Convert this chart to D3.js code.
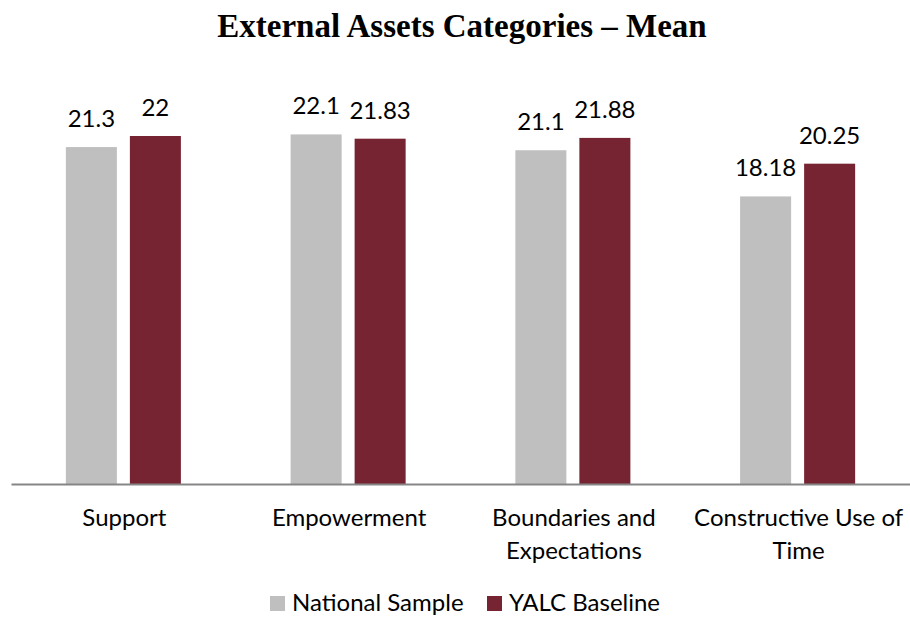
<!DOCTYPE html>
<html>
<head>
<meta charset="utf-8">
<script src="https://cdn.jsdelivr.net/npm/d3@7"></script>
<style>
  body { margin: 0; background: #fff; }
  text { font-family: Lato, "Open Sans", sans-serif; fill: #000; }
  .title { font-family: "Liberation Serif", "DejaVu Serif", serif; font-weight: bold; font-size: 33px; }
</style>
</head>
<body>
<div id="chart"></div>
<script>
// chart data
const categories = [["Support"], ["Empowerment"], ["Boundaries and", "Expectations"], ["Constructive Use of", "Time"]]
const seriesNames = ["National Sample", "YALC Baseline"]
const nationalSample = [21.3, 22.1, 21.1, 18.18]
const yalcBaseline = [22, 21.83, 21.88, 20.25]
const colors = ["#BFBFBF", "#772432"]

const width = 910, height = 617
const svg = d3.select("#chart").append("svg")
    .attr("width", width)
    .attr("height", height)

// scales
const x0 = d3.scaleBand()
    .domain(d3.range(categories.length))
    .range([11, 910])
const x1 = d3.scaleBand()
    .domain([0, 1])
    .range([0, x0.bandwidth()])
    .paddingInner(0.203)
    .paddingOuter(0.857)
const y = d3.scaleLinear()
    .domain([0, 22])
    .range([484, 136])

const series = [nationalSample, yalcBaseline]

// bars
series.forEach((vals, s) => {
    svg.append("g").selectAll("rect")
       .data(vals)
       .enter()
       .append("rect")
       .attr("x", (d, i) => x0(i) + x1(s))
       .attr("y", d => y(d))
       .attr("width", x1.bandwidth())
       .attr("height", d => y(0) - y(d))
       .attr("fill", colors[s])

    // value labels
    svg.append("g").selectAll("text")
       .data(vals)
       .enter()
       .append("text")
       .attr("x", (d, i) => x0(i) + x1(s) + x1.bandwidth() / 2)
       .attr("y", d => y(d) - 20)
       .attr("text-anchor", "middle")
       .style("font-size", "24px")
       .text(d => d)
})

// x axis line
const xAxis = d3.axisBottom(x0).tickSize(0).tickFormat("")
const axisG = svg.append("g")
    .attr("transform", `translate(0,${y(0)})`)
    .call(xAxis)
axisG.select(".domain").attr("stroke", "#868686").attr("stroke-width", 2)

// category labels
categories.forEach((lines, i) => {
    const t = svg.append("text")
        .attr("text-anchor", "middle")
        .attr("x", x0(i) + x0.bandwidth() / 2 + 1)
        .attr("y", 526)
        .style("font-size", "24px")
    lines.forEach((ln, j) => {
        t.append("tspan")
         .attr("x", x0(i) + x0.bandwidth() / 2 + 1)
         .attr("dy", j == 0 ? 0 : 33)
         .text(ln)
    })
})

// title
svg.append("text")
   .attr("class", "title")
   .attr("x", 462)
   .attr("y", 37)
   .attr("text-anchor", "middle")
   .text("External Assets Categories \u2013 Mean")

// legend
const legendX = [270, 487]
seriesNames.forEach((name, s) => {
    svg.append("rect")
       .attr("x", legendX[s])
       .attr("y", 596)
       .attr("width", 15)
       .attr("height", 15)
       .attr("fill", colors[s])
    svg.append("text")
       .attr("x", legendX[s] + 22)
       .attr("y", 611)
       .style("font-size", "24px")
       .text(name)
})
</script>
</body>
</html>
